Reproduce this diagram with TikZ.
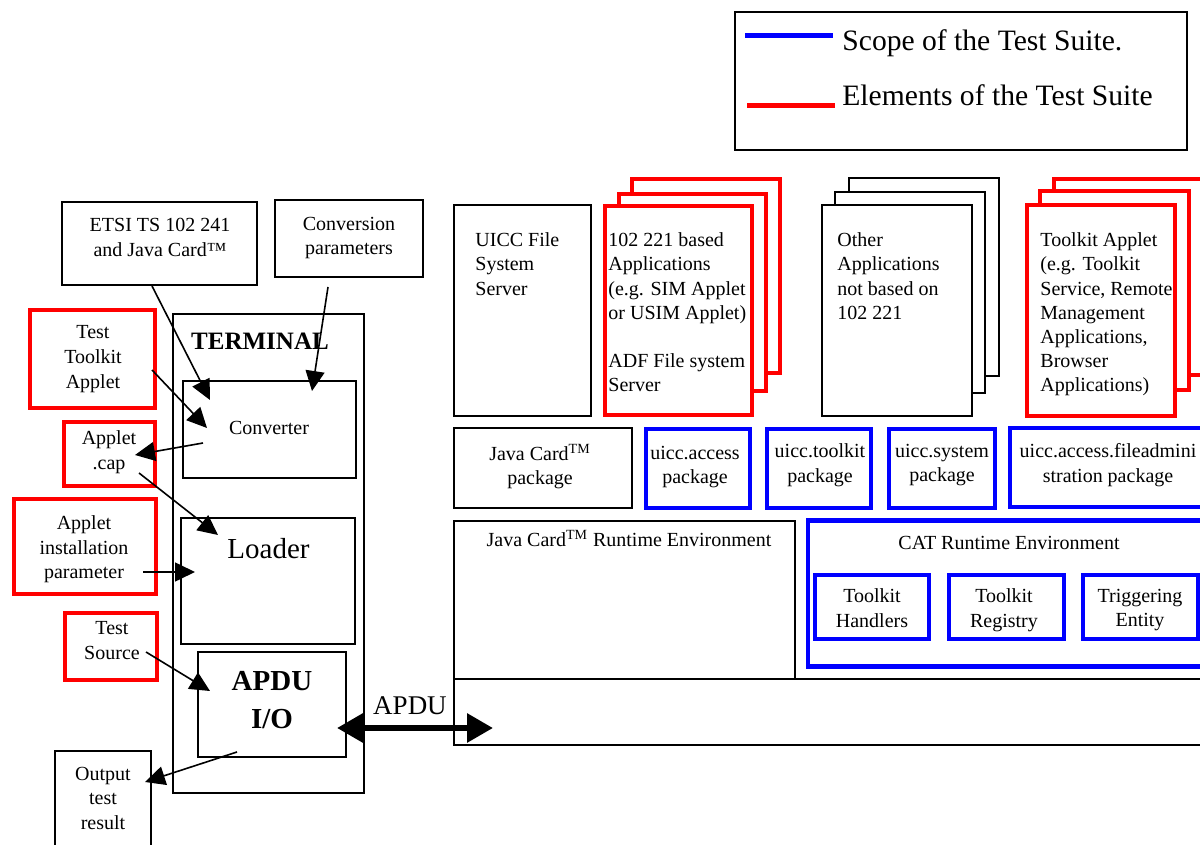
\documentclass[tikz,border=0pt]{standalone}
\usepackage{fontspec}
\setmainfont{Liberation Serif}
\usetikzlibrary{arrows.meta,positioning,fit}

\tikzset{plain_box/.style={draw=black, line width=0.9pt, inner sep=0pt, outer sep=0pt, fill=white}}
\tikzset{scope_box/.style={draw=blue, line width=2.4pt, inner sep=0pt, outer sep=0pt}}
\tikzset{element_box/.style={draw=red, line width=2.4pt, inner sep=0pt, outer sep=0pt, fill=white}}
\tikzset{box_text/.style={inner sep=0pt, align=center, font=\fontsize{10}{12.3}\selectfont}}
\tikzset{left_text/.style={inner sep=0pt, align=left, anchor=north west, font=\fontsize{10}{12.1}\selectfont}}
\tikzset{big_text/.style={inner sep=0pt, align=center, font=\fontsize{14.5}{19}\selectfont}}
\tikzset{flow_arrow/.style={-{Triangle[length=10pt,width=9.5pt]}, line width=0.8pt}}
\tikzset{apdu_arrow/.style={{Triangle[length=13pt,width=14pt]}-{Triangle[length=13pt,width=14pt]}, line width=3pt}}

\begin{document}
\begin{tikzpicture}[x=0.5pt,y=-0.5pt]
    \useasboundingbox (0,0) rectangle (1200,845);
    \clip (0,0) rectangle (1200,845);
    % legend
    \node[plain_box, fit={(735,12) (1187,150)}] (legend) {};
    \draw[blue, line width=2.5pt] (745,36) -- (833,36);
    \draw[red, line width=2.5pt] (747,106) -- (835,106);
    \node[inner sep=0pt, anchor=base west, font=\fontsize{14.8}{17}\selectfont] (scope_lbl) at (842,51) {Scope of the Test Suite.};
    \node[inner sep=0pt, anchor=base west, font=\fontsize{14.8}{17}\selectfont] (elem_lbl) at (842,106) {Elements of the Test Suite};

    % terminal side
    \node[plain_box, fit={(62,202) (257,285)}] (etsi) {};
    \node[box_text, anchor=north] (etsi_txt) at (160,218) {ETSI TS 102 241\\and Java Card™};
    \node[plain_box, fit={(275,200) (423,277)}] (conv_par) {};
    \node[box_text, anchor=north] (conv_par_txt) at (349,216.5) {Conversion\\parameters};
    \node[plain_box, fit={(173,314) (364,793)}] (terminal) {};
    \node[inner sep=0pt, anchor=base, font=\fontsize{12.5}{15}\selectfont\bfseries] (terminal_txt) at (260,350) {TERMINAL};
    \node[plain_box, fit={(183,381) (356,478)}] (converter) {};
    \node[box_text, anchor=base] (converter_txt) at (269,435) {Converter};
    \node[plain_box, fit={(181,518) (355,644)}] (loader) {};
    \node[big_text, anchor=base] (loader_txt) at (268.5,558) {Loader};
    \node[plain_box, fit={(198,652) (346,757)}] (apdu_io) {};
    \node[big_text, anchor=north, font=\fontsize{14.5}{19}\selectfont\bfseries] (apdu_io_txt) at (272,671) {APDU\\I/O};

    \node[element_box, fit={(30,310) (155,408)}] (tt_applet) {};
    \node[box_text, anchor=north] (tt_applet_txt) at (93,325.5) {Test\\Toolkit\\Applet};
    \node[element_box, fit={(64,422) (155,486)}] (applet_cap) {};
    \node[box_text, anchor=north] (applet_cap_txt) at (109,430.5) {Applet\\.cap};
    \node[element_box, fit={(14,499) (156,594)}] (app_inst) {};
    \node[box_text, anchor=north] (app_inst_txt) at (84,515.5) {Applet\\installation\\parameter};
    \node[element_box, fit={(65,613) (157,680)}] (test_src) {};
    \node[box_text, anchor=north] (test_src_txt) at (112,621.5) {Test\\Source};
    \node[plain_box, fit={(55,751) (151,870)}] (output) {};
    \node[box_text, anchor=north] (output_txt) at (103,766.5) {Output\\test\\result};

    % connector ends
    \coordinate (etsi_out) at (152,286);
    \coordinate (conv_in_a) at (210,400);
    \coordinate (conv_par_out) at (328,287);
    \coordinate (conv_in_b) at (312,391);
    \coordinate (tt_applet_out) at (152,370);
    \coordinate (conv_in_c) at (207,428);
    \coordinate (conv_out) at (203,443);
    \coordinate (cap_in) at (135,455);
    \coordinate (cap_out) at (139,473);
    \coordinate (loader_in_a) at (218,535);
    \coordinate (app_inst_out) at (143,572);
    \coordinate (loader_in_b) at (195,572);
    \coordinate (test_src_out) at (146,652);
    \coordinate (apdu_in) at (210,691);
    \coordinate (apdu_out) at (237,752);
    \coordinate (output_in) at (145,782);
    \coordinate (apdu_port) at (337,728);
    \coordinate (card_port) at (493,728);

    \draw[flow_arrow] (etsi_out) -- (conv_in_a);
    \draw[flow_arrow] (conv_par_out) -- (conv_in_b);
    \draw[flow_arrow] (tt_applet_out) -- (conv_in_c);
    \draw[flow_arrow] (conv_out) -- (cap_in);
    \draw[flow_arrow] (cap_out) -- (loader_in_a);
    \draw[flow_arrow] (app_inst_out) -- (loader_in_b);
    \draw[flow_arrow] (test_src_out) -- (apdu_in);
    \draw[flow_arrow] (apdu_out) -- (output_in);

    % card side
    \node[plain_box, fit={(454,679) (1230,745)}] (card_io) {};
    \draw[apdu_arrow] (apdu_port) -- (card_port);
    \node[inner sep=0pt, anchor=base, font=\fontsize{13.5}{16}\selectfont] (apdu_lbl) at (410,714) {APDU};

    \node[plain_box, fit={(454,205) (591,416)}] (uicc_fs) {};
    \node[left_text] (uicc_fs_txt) at (475,232.5) {UICC File\\System\\Server};

    \node[element_box, fit={(632,179) (780,373)}] (app221_c) {};
    \node[element_box, fit={(619,194) (766,391)}] (app221_b) {};
    \node[element_box, fit={(605,206) (752,415)}] (app221_a) {};
    \node[left_text] (app221_txt) at (608,232.5) {102 221 based\\Applications\\(e.g. SIM Applet\\or USIM Applet)\\[12.1pt]ADF File system\\Server};

    \node[plain_box, fit={(849,178) (999,376)}] (other_c) {};
    \node[plain_box, fit={(835,192) (985,393)}] (other_b) {};
    \node[plain_box, fit={(822,205) (972,416)}] (other_a) {};
    \node[left_text] (other_txt) at (837,232.5) {Other\\Applications\\not based on\\102 221};

    \node[element_box, fit={(1054,179) (1230,375)}] (tk_applet_c) {};
    \node[element_box, fit={(1040,191) (1189,390)}] (tk_applet_b) {};
    \node[element_box, fit={(1027,205) (1175,416)}] (tk_applet_a) {};
    \node[left_text] (tk_applet_txt) at (1040,232.5) {Toolkit Applet\\(e.g. Toolkit\\Service, Remote\\Management\\Applications,\\Browser\\Applications)};

    % packages
    \node[plain_box, fit={(454,428) (632,508)}] (jc_pkg) {};
    \node[box_text, anchor=north] (jc_pkg_txt) at (540,443.5) {Java Card\textsuperscript{TM}\\package};
    \node[scope_box, fit={(646,429) (750,508)}] (access_pkg) {};
    \node[box_text, anchor=north] (access_pkg_txt) at (695,445.5) {uicc.access\\package};
    \node[scope_box, fit={(767,429) (871,508)}] (toolkit_pkg) {};
    \node[box_text, anchor=north] (toolkit_pkg_txt) at (820,443.5) {uicc.toolkit\\package};
    \node[scope_box, fit={(889,429) (995,508)}] (system_pkg) {};
    \node[box_text, anchor=north] (system_pkg_txt) at (942,443.5) {uicc.system\\package};
    \node[scope_box, fit={(1010,428) (1230,507)}] (fileadmin_pkg) {};
    \node[box_text, anchor=north] (fileadmin_txt) at (1108,443.5) {uicc.access.fileadmini\\stration package};

    % runtime environments
    \node[plain_box, fit={(454,521) (795,679)}] (jcre) {};
    \node[box_text, anchor=north] (jcre_txt) at (629,529.5) {Java Card\textsuperscript{TM} Runtime Environment};
    \node[scope_box, fit={(808,520.5) (1230,666.5)}] (catre) {};
    \node[box_text, anchor=base] (catre_txt) at (1009,549) {CAT Runtime Environment};
    \node[scope_box, fit={(815,575) (929,639)}] (handlers) {};
    \node[box_text, anchor=north] (handlers_txt) at (872,588.5) {Toolkit\\Handlers};
    \node[scope_box, fit={(949,575) (1064,639)}] (registry) {};
    \node[box_text, anchor=north] (registry_txt) at (1004,588.5) {Toolkit\\Registry};
    \node[scope_box, fit={(1083,575) (1198,639)}] (trigger) {};
    \node[box_text, anchor=north] (trigger_txt) at (1140,588.5) {Triggering\\Entity};
\end{tikzpicture}
\end{document}
